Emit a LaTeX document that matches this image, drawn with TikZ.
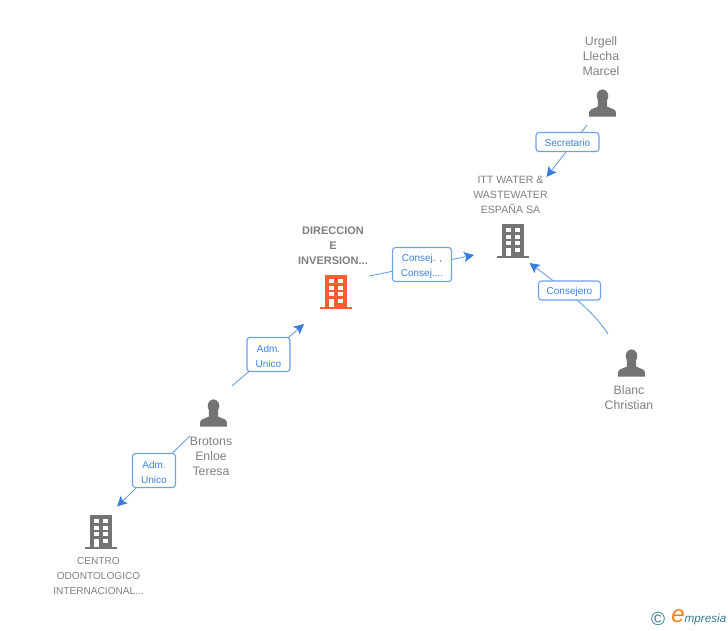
\documentclass[tikz,border=0pt]{standalone}
\usepackage{fontspec}
\setmainfont{Liberation Sans}
\usetikzlibrary{arrows.meta,calc}
\definecolor{IconClr}{rgb}{0.45,0.45,0.45}
\definecolor{MainClr}{rgb}{1,0.36,0.2}
\definecolor{TextClr}{rgb}{0.5,0.5,0.5}
\definecolor{BoxClr}{rgb}{0.42,0.63,0.91}
\definecolor{LineClr}{rgb}{0.36,0.58,0.89}
\definecolor{TipClr}{rgb}{0.22,0.49,0.87}
\definecolor{LabelClr}{rgb}{0.23,0.5,0.87}
\definecolor{LogoClr}{rgb}{0.22,0.47,0.56}
\definecolor{LogoEClr}{rgb}{0.96,0.5,0.1}
\newcommand{\RoleTop}{\rule{0pt}{10.5pt}}
\tikzset{
  personpic/.pic={
    \fill[pic actions] (0,-7) ellipse (5.8 and 6.6);
    \fill[pic actions] (-13.3,13.7) -- (-13.3,9) .. controls (-13.3,6) and (-8,5.5) .. (-4.6,3.5)
      -- (-4.6,-3) -- (4.6,-3) -- (4.6,3.5) .. controls (8,5.5) and (13.3,6) .. (13.3,9) -- (13.3,13.7) -- cycle;
  },
  towerpic/.pic={
    \fill[pic actions] (-11,-17) rectangle (11,14.5);
    \fill[pic actions] (-16,14.5) rectangle (16,17);
    \foreach \y in {-13,-6.4,0.2} {
      \fill[white] (-7.2,\y) rectangle (-2.4,\y+4.2);
      \fill[white] (2.4,\y) rectangle (7.2,\y+4.2);
    }
    \fill[white] (-7.2,6.8) rectangle (-2.4,14.5);
    \fill[white] (2.4,6.8) rectangle (7.2,11);
  },
  partyname/.style={align=center,text=TextClr,font=\fontsize{12.3}{15}\selectfont,inner sep=0pt},
  smallname/.style={partyname,font=\fontsize{10.1}{15}\selectfont},
  ittname/.style={partyname,font=\fontsize{10.6}{15}\selectfont},
  mainname/.style={partyname,font=\fontsize{11}{15}\selectfont\bfseries},
  rolebase/.style={draw=BoxClr,line width=1.1pt,fill=white,rounded corners=3pt,align=center,
    text=LabelClr,font=\fontsize{10}{15}\selectfont,inner sep=0pt},
  rolebox/.style={rolebase,minimum height=19pt,
    execute at begin node=\rule{0pt}{11.5pt},
    execute at end node=\rule[-3pt]{0pt}{3pt}},
  tallbox/.style={rolebase,minimum height=34pt},
  linkedge/.style={draw=LineClr,line width=.8pt},
  linktip/.style={linkedge,-{Stealth[length=10pt,width=10pt,inset=2pt,color=TipClr]}},
}

\begin{document}
\begin{tikzpicture}[x=1pt,y=-1pt]
\useasboundingbox (0,0) rectangle (728,630);

\coordinate (UrgellOut) at (587,125);
\coordinate (IttIn) at (546.5,177);
\coordinate (DireccionOut) at (369,276);
\coordinate (IttInB) at (474,255);
\coordinate (BlancOut) at (608,334);
\coordinate (IttInC) at (529.5,263);
\coordinate (BrotonsUp) at (232,386);
\coordinate (DireccionIn) at (304,324);
\coordinate (BrotonsDown) at (190,436);
\coordinate (CentroIn) at (117,506.5);

\pic[fill=IconClr] at (602.5,103) {personpic};
\pic[fill=IconClr] at (513,241) {towerpic};
\pic[fill=MainClr] at (336,292) {towerpic};
\pic[fill=IconClr] at (213.5,413) {personpic};
\pic[fill=IconClr] at (631.5,363) {personpic};
\pic[fill=IconClr] at (101,532) {towerpic};

\node[partyname] (Urgell) at (601,56) {Urgell\\Llecha\\Marcel};
\node[ittname] (Itt) at (510.5,195) {ITT WATER \&\\WASTEWATER\\ESPAÑA SA};
\node[mainname] (Direccion) at (333,246) {DIRECCION\\E\\INVERSION...};
\node[partyname] (Brotons) at (211,456) {Brotons\\Enloe\\Teresa};
\node[partyname] (Blanc) at (629,397.5) {Blanc\\Christian};
\node[smallname] (Centro) at (98.5,576) {CENTRO\\ODONTOLOGICO\\INTERNACIONAL...};

\draw[linktip] (UrgellOut) -- (IttIn);
\draw[linktip] (DireccionOut) -- (IttInB);
\draw[linktip] (BlancOut) .. controls (594,312) and (570,293) .. (IttInC);
\draw[linktip] (BrotonsUp) -- (DireccionIn);
\draw[linktip] (BrotonsDown) -- (CentroIn);

\node[rolebox,minimum width=63pt] (Secretario) at (567.5,142) {Secretario};
\node[tallbox,minimum width=59pt] (Consej) at (422,264.5) {\RoleTop Consej. ,\\Consej....};
\node[rolebox,minimum width=62pt] (Consejero) at (569.5,290.5) {Consejero};
\node[tallbox,minimum width=43pt] (AdmUp) at (268.5,354.5) {\RoleTop Adm.\\Unico};
\node[tallbox,minimum width=43pt] (AdmDown) at (154,470.5) {\RoleTop Adm.\\Unico};

% logo
\node[text=LogoClr,font=\fontsize{19}{19}\selectfont,inner sep=0pt] (LogoC) at (658,619) {©};
\node[text=LogoEClr,font=\fontsize{24}{24}\selectfont\itshape,inner sep=0pt] (LogoE) at (678,616.5) {e};
\node[text=LogoClr,font=\fontsize{11.7}{13}\selectfont\itshape,inner sep=0pt,anchor=west] (LogoText) at (684.5,619.5) {mpresia};
\end{tikzpicture}
\end{document}
